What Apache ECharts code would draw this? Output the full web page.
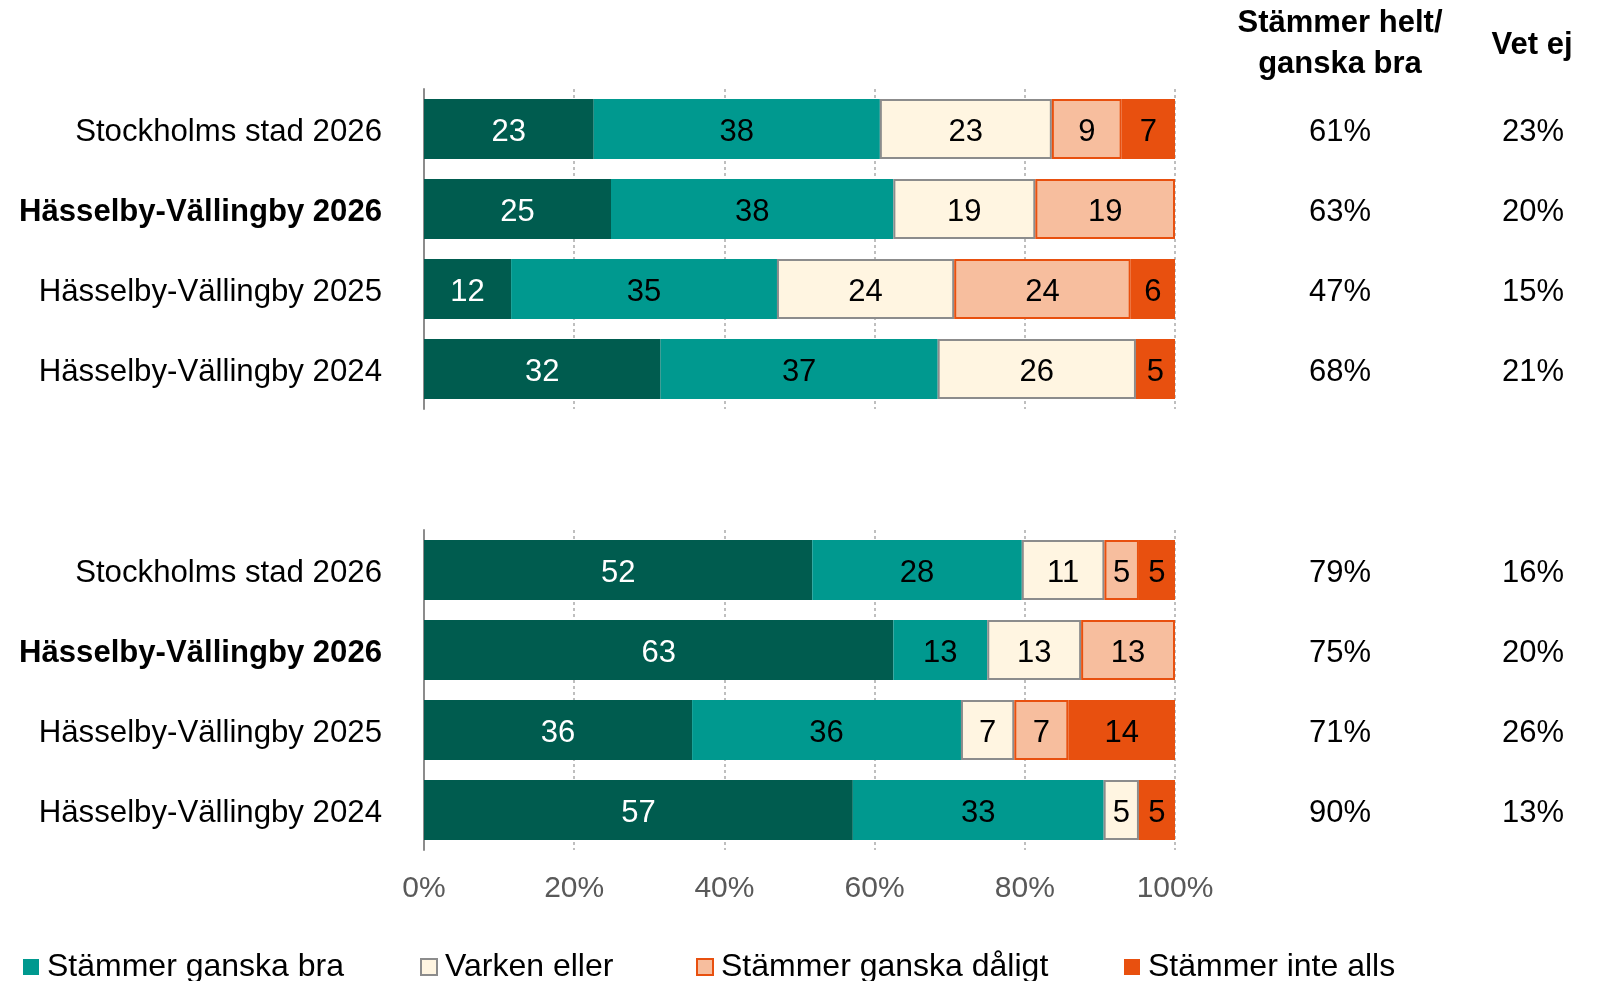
<!DOCTYPE html>
<html>
<head>
<meta charset="utf-8">
<script src="https://cdn.jsdelivr.net/npm/echarts@6/dist/echarts.min.js"></script>
<style>
html,body{margin:0;padding:0;background:#fff;}
#chart{width:1600px;height:981px;}
</style>
</head>
<body>
<div id="chart"></div>
<script>
const categories = ['Stockholms stad 2026', 'Hässelby-Vällingby 2026', 'Hässelby-Vällingby 2025', 'Hässelby-Vällingby 2024'];
const seriesNames = ['Stämmer helt bra', 'Stämmer ganska bra', 'Varken eller', 'Stämmer ganska dåligt', 'Stämmer inte alls'];
const xTicks = [0, 20, 40, 60, 80, 100];

// Upper block
const topHeltBra    = [22.6, 24.9, 11.6, 31.5];
const topGanskaBra  = [38.1, 37.6, 35.4, 36.9];
const topVarken     = [22.9, 18.9, 23.6, 26.4];
const topDaligt     = [9.3, 18.6, 23.5, null];
const topInteAlls   = [7.1, null, 5.9, 5.2];
const topTotalBra   = [61, 63, 47, 68];
const topVetEj      = [23, 20, 15, 21];

// Lower block
const botHeltBra    = [51.7, 62.5, 35.7, 57.1];
const botGanskaBra  = [27.9, 12.5, 35.8, 33.4];
const botVarken     = [11.0, 12.5, 7.1, 4.7];
const botDaligt     = [4.6, 12.5, 7.2, null];
const botInteAlls   = [4.8, null, 14.2, 4.8];
const botTotalBra   = [79, 75, 71, 90];
const botVetEj      = [16, 20, 26, 13];

const FONT = 'Liberation Sans, Arial, sans-serif';
const styles = [
  {color: '#005C4F', borderWidth: 0, label: '#ffffff'},
  {color: '#00998F', borderWidth: 0, label: '#000000'},
  {color: '#FFF5E1', borderColor: '#8C8C8C', borderWidth: 2, label: '#000000'},
  {color: '#F7BE9E', borderColor: '#E8500F', borderWidth: 2, label: '#000000'},
  {color: '#E8500F', borderWidth: 0, label: '#000000'}
];

function makeSeries(dataArrays, gridIdx) {
  return dataArrays.map((arr, i) => ({
    name: seriesNames[i],
    type: 'bar',
    stack: 'g' + gridIdx,
    xAxisIndex: gridIdx,
    yAxisIndex: gridIdx * 2,
    barWidth: 60,
    data: arr,
    itemStyle: {color: styles[i].color, borderColor: styles[i].borderColor || styles[i].color, borderWidth: styles[i].borderWidth},
    label: {
      show: true, position: 'inside', color: styles[i].label, offset: [0, 3],
      fontFamily: FONT, fontSize: 31,
      formatter: p => (p.value == null ? '' : String(Math.round(p.value)))
    },
    emphasis: {disabled: true},
    animation: false
  }));
}

function xAxis(gridIdx, showLabels) {
  return {
    type: 'value', gridIndex: gridIdx, min: 0, max: 100, interval: 20,
    axisLine: {show: false}, axisTick: {show: false},
    splitLine: {show: true, lineStyle: {color: '#BFBFBF', type: [3, 3], width: 2}},
    axisLabel: {show: showLabels, formatter: v => xTicks.includes(v) ? v + '%' : '', color: '#595959',
      fontFamily: FONT, fontSize: 30, margin: 24}
  };
}

function yAxes(gridIdx, totals, vetej) {
  return [
    {
      type: 'category', gridIndex: gridIdx, data: categories, inverse: true,
      axisLine: {show: true, lineStyle: {color: '#8C8C8C', width: 2}},
      axisTick: {show: false},
      axisLabel: {
        margin: 42, color: '#000', fontFamily: FONT, fontSize: 31.2, padding: [7, 0, 0, 0],
        formatter: v => v === 'Hässelby-Vällingby 2026' ? '{b|' + v + '}' : v,
        rich: {b: {fontWeight: 'bold', fontFamily: FONT, fontSize: 31.1, color: '#000'}}
      }
    },
    {
      type: 'category', gridIndex: gridIdx, data: categories, inverse: true, position: 'right',
      axisLine: {show: false}, axisTick: {show: false},
      axisLabel: {
        margin: 85, align: 'left', fontFamily: FONT, fontSize: 31, color: '#000', padding: [7, 0, 0, 0],
        formatter: (v, idx) => '{a|' + totals[idx] + '%}{c|' + vetej[idx] + '%}',
        rich: {
          a: {width: 160, align: 'center', fontFamily: FONT, fontSize: 31, color: '#000'},
          c: {width: 226, align: 'center', fontFamily: FONT, fontSize: 31, color: '#000'}
        }
      }
    }
  ];
}

const legendLefts = [18, 415, 691, 1119];
const legends = seriesNames.slice(1).map((n, i) => ({
  data: [n], left: legendLefts[i], top: 946, icon: 'rect', itemWidth: 16, itemHeight: 16, itemGap: 0,
  textStyle: {fontFamily: FONT, fontSize: 32, color: '#000', padding: [0, 0, 0, 3]},
  selectedMode: false
}));

const chart = echarts.init(document.getElementById('chart'), null, {renderer: 'canvas'});
chart.setOption({
  animation: false,
  backgroundColor: '#ffffff',
  grid: [
    {left: 424, right: 425, top: 89, height: 320},
    {left: 424, right: 425, top: 530, height: 320}
  ],
  xAxis: [xAxis(0, false), xAxis(1, true)],
  yAxis: [...yAxes(0, topTotalBra, topVetEj), ...yAxes(1, botTotalBra, botVetEj)],
  legend: legends,
  graphic: [
    {type: 'text', x: 1340, y: 3, style: {text: 'Stämmer helt/\nganska bra', align: 'center', verticalAlign: 'top',
      fontFamily: FONT, fontSize: 31, fontWeight: 'bold', lineHeight: 41, fill: '#000'}},
    {type: 'text', x: 1532, y: 45, style: {text: 'Vet ej', align: 'center', verticalAlign: 'middle',
      fontFamily: FONT, fontSize: 31, fontWeight: 'bold', fill: '#000'}}
  ],
  series: [
    ...makeSeries([topHeltBra, topGanskaBra, topVarken, topDaligt, topInteAlls], 0),
    ...makeSeries([botHeltBra, botGanskaBra, botVarken, botDaligt, botInteAlls], 1)
  ]
});
</script>
</body>
</html>
